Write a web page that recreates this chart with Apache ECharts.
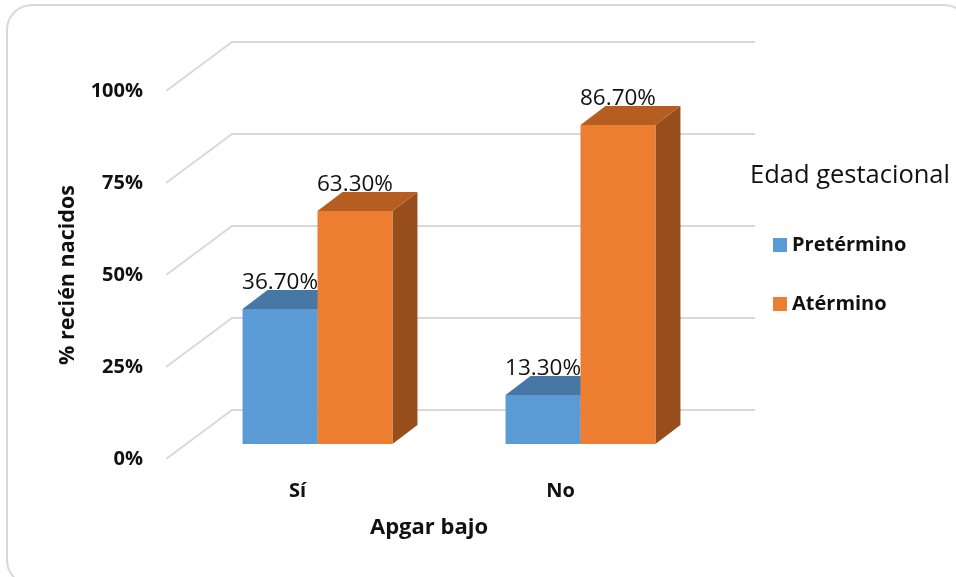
<!DOCTYPE html>
<html>
<head>
<meta charset="utf-8">
<script src="https://cdn.jsdelivr.net/npm/echarts@6/dist/echarts.min.js"></script>
<style>
  html, body { margin: 0; padding: 0; background: #fff; }
  #chart { width: 956px; height: 577px; }
</style>
</head>
<body>
<div id="chart"></div>
<script>
const categories = ['Sí', 'No'];
const seriesNames = ['Pretérmino', 'Atérmino'];
const pretermino = [36.7, 13.3];
const atermino = [63.3, 86.7];
const yTicks = [0, 25, 50, 75, 100];

const FONT = '"Open Sans", "Liberation Sans", sans-serif';

// Excel-like 3D look: bars sit a bit behind the axis plane, walls further back
const BAR_SHIFT = [20, -15];
const DEPTH = [25, -19];
const WALL = [66, -49];

const faces = [
  { front: '#5b9bd5', top: '#4677a5', side: '#3e6a93' },
  { front: '#ed7d31', top: '#b65d22', side: '#984d1c' },
];

function barRenderer(idx) {
  return function (params, api) {
    const c = api.value(0);
    const v = api.value(1);
    const base = api.coord([c, 0]);
    const top = api.coord([c, v]);
    const w = api.size([1, 0])[0] * 0.285;
    const x0 = (idx === 0 ? base[0] - w : base[0]) + BAR_SHIFT[0];
    const x1 = x0 + w;
    const yb = base[1] + BAR_SHIFT[1];
    const yt = top[1] + BAR_SHIFT[1];
    const dx = DEPTH[0], dy = DEPTH[1];
    const f = faces[idx];
    return {
      type: 'group',
      children: [
        { type: 'polygon', shape: { points: [[x1, yt], [x1 + dx, yt + dy], [x1 + dx, yb + dy], [x1, yb]] }, style: { fill: f.side } },
        { type: 'polygon', shape: { points: [[x0, yt], [x1, yt], [x1 + dx, yt + dy], [x0 + dx, yt + dy]] }, style: { fill: f.top } },
        { type: 'rect', shape: { x: x0, y: yt, width: w, height: yb - yt }, style: { fill: f.front } },
        {
          type: 'text',
          style: {
            x: x0 + w / 2, y: yt - 26,
            text: v.toFixed(2) + '%',
            align: 'center', verticalAlign: 'middle',
            font: '22.5px ' + FONT, fill: '#111',
          },
        },
      ],
    };
  };
}

const chart = echarts.init(document.getElementById('chart'));

chart.setOption({
  animation: false,
  backgroundColor: '#fff',
  graphic: [
    {
      type: 'rect',
      shape: { x: 7, y: 5, width: 962, height: 580, r: 25 },
      style: { fill: 'none', stroke: '#d9d9d9', lineWidth: 2 },
      z: -1,
    },
  ],
  title: {
    text: 'Edad gestacional',
    left: 745,
    top: 158,
    textStyle: { fontFamily: FONT, fontSize: 25.5, fontWeight: 'normal', color: '#111' },
  },
  legend: {
    data: seriesNames,
    orient: 'vertical',
    left: 768,
    top: 230,
    icon: 'rect',
    itemWidth: 14,
    itemHeight: 14,
    itemGap: 39,
    textStyle: { fontFamily: FONT, fontSize: 20, fontWeight: 'bold', color: '#111' },
  },
  grid: { left: 166, top: 91, width: 526, height: 368 },
  xAxis: {
    type: 'category',
    data: categories,
    name: 'Apgar bajo',
    nameLocation: 'middle',
    nameGap: 58,
    nameTextStyle: { fontFamily: FONT, fontSize: 22, fontWeight: 'bold', color: '#111' },
    axisLine: { show: false },
    axisTick: { show: false },
    axisLabel: { margin: 22, fontFamily: FONT, fontSize: 20, fontWeight: 'bold', color: '#111' },
  },
  yAxis: {
    type: 'value',
    min: 0,
    max: 100,
    interval: 25,
    name: '% recién nacidos',
    nameLocation: 'middle',
    nameRotate: 90,
    nameGap: 87,
    nameTextStyle: { fontFamily: FONT, fontSize: 21.5, fontWeight: 'bold', color: '#111' },
    axisLine: { show: false },
    axisTick: { show: false },
    splitLine: { show: false },
    axisLabel: { margin: 23, formatter: '{value}%', fontFamily: FONT, fontSize: 20, fontWeight: 'bold', color: '#111' },
  },
  series: [
    {
      type: 'custom',
      name: 'grid',
      silent: true,
      z: 1,
      data: yTicks.map(v => [0, v]),
      renderItem: function (params, api) {
        const cs = params.coordSys;
        const y = api.coord([0, api.value(1)])[1];
        const x = cs.x;
        return {
          type: 'polyline',
          shape: { points: [[x, y], [x + WALL[0], y + WALL[1]], [cs.x + cs.width + 63, y + WALL[1]]] },
          style: { stroke: '#d9d9d9', lineWidth: 2, fill: 'none' },
        };
      },
    },
    {
      type: 'custom',
      name: seriesNames[0],
      z: 2,
      itemStyle: { color: faces[0].front },
      data: pretermino.map((v, i) => [i, v]),
      renderItem: barRenderer(0),
    },
    {
      type: 'custom',
      name: seriesNames[1],
      z: 3,
      itemStyle: { color: faces[1].front },
      data: atermino.map((v, i) => [i, v]),
      renderItem: barRenderer(1),
    },
  ],
});
</script>
</body>
</html>
